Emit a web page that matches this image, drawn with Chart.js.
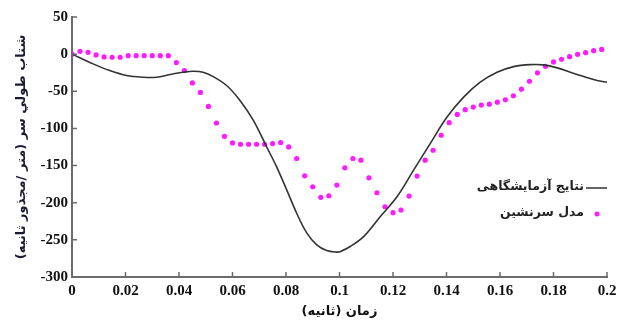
<!DOCTYPE html>
<html>
<head>
<meta charset="utf-8">
<script src="https://cdn.jsdelivr.net/npm/chart.js@4.4.1/dist/chart.umd.min.js"></script>
<style>
  html, body { margin: 0; padding: 0; background: #fff; }
  #wrap { width: 624px; height: 322px; }
</style>
</head>
<body>
<div id="wrap"><canvas id="chart"></canvas></div>
<script>
// Solid curve: lab results (time in s, acceleration)
const labTime = [0, 0.0079, 0.0141, 0.0204, 0.0266, 0.0316, 0.0366, 0.0416, 0.0453, 0.0490,
  0.0528, 0.0578, 0.0628, 0.0678, 0.0728, 0.0765, 0.0803, 0.0840, 0.0878, 0.0915,
  0.0952, 0.0990, 0.1002, 0.1040, 0.1090, 0.1152, 0.1215, 0.1277, 0.1339, 0.1402,
  0.1464, 0.1526, 0.1589, 0.1651, 0.1714, 0.1763, 0.1814, 0.1863, 0.1913, 0.1963, 0.2000];
const labAccel = [0, -13.1, -22.1, -28.8, -31.1, -31.1, -27.5, -24.4, -23.1, -24.4,
  -30.2, -42.2, -62.3, -89.1, -125, -151.7, -183, -214.2, -241, -256.7,
  -264.3, -266.5, -266, -259, -245.6, -218.8, -192, -156.2, -120.4, -84.7,
  -57.9, -37.8, -24.4, -16.8, -14.1, -14.5, -18.5, -24.4, -30.2, -35.5, -37.8];

// Dotted series: occupant model
const modelTime = [0, 0.003, 0.006, 0.009, 0.012, 0.015, 0.018, 0.021, 0.024, 0.027,
  0.030, 0.033, 0.036, 0.039, 0.042, 0.045, 0.048, 0.051, 0.054, 0.057,
  0.060, 0.063, 0.066, 0.069, 0.072, 0.075, 0.078, 0.081, 0.084, 0.087,
  0.090, 0.093, 0.096, 0.099, 0.102, 0.105, 0.108, 0.111, 0.114, 0.117,
  0.120, 0.123, 0.126, 0.129, 0.132, 0.135, 0.138, 0.141, 0.144, 0.147,
  0.150, 0.153, 0.156, 0.159, 0.162, 0.165, 0.168, 0.171, 0.174, 0.177,
  0.180, 0.183, 0.186, 0.189, 0.192, 0.195, 0.198];
const modelAccel = [0, 3.8, 2.4, -1.1, -3.8, -4.2, -4.2, -2, -2, -2,
  -2, -2, -2, -11.4, -22, -38.7, -51.6, -70.4, -92.7, -110.6,
  -119.5, -121.3, -121.3, -121.3, -121.3, -120.4, -119, -124.9, -140.5, -163.8,
  -178.5, -192.8, -190.6, -176.3, -153, -140.5, -142.8, -166.5, -186.6, -205.4,
  -213.4, -209.8, -191, -164.2, -142.8, -129.4, -109.2, -92.2, -81.1, -74.8,
  -71.3, -68.6, -67.3, -64.6, -61.4, -56, -47.2, -36.5, -25.2, -16.4,
  -10.5, -6.9, -3.4, -0.3, 2, 4.7, 6.4];

const xTicks = [0, 0.02, 0.04, 0.06, 0.08, 0.1, 0.12, 0.14, 0.16, 0.18, 0.2];
const yTicks = [50, 0, -50, -100, -150, -200, -250, -300];

const seriesLabels = ['نتايج آزمايشگاهی', 'مدل سرنشين'];
const xTitle = 'زمان (ثانيه)';
const yTitle = 'شتاب طولي سر (متر /مجذور ثانيه)';

const AXIS_COLOR = '#6b6b6b';
const LINE_COLOR = '#333333';
const DOT_COLOR = '#ff1aff';
const TICK_FONT = { family: '"Liberation Serif", "Times New Roman", serif', size: 15, weight: 'bold' };
const TITLE_FONT = { family: '"DejaVu Sans", sans-serif', size: 13, weight: 'bold' };

const toPoints = (xs, ys) => xs.map((x, i) => ({ x, y: ys[i] }));

// Tick marks pointing into the plot
const inwardTicks = {
  id: 'inwardTicks',
  afterDraw(chart) {
    const { ctx, chartArea } = chart;
    const { x, y } = chart.scales;
    ctx.save();
    ctx.strokeStyle = AXIS_COLOR;
    ctx.lineWidth = 1.5;
    ctx.beginPath();
    xTicks.forEach(v => {
      const px = x.getPixelForValue(v);
      ctx.moveTo(px, chartArea.bottom);
      ctx.lineTo(px, chartArea.bottom - 5);
    });
    yTicks.forEach(v => {
      const py = y.getPixelForValue(v);
      ctx.moveTo(chartArea.left, py);
      ctx.lineTo(chartArea.left + 5, py);
    });
    ctx.stroke();
    ctx.restore();
  }
};

// Legend drawn inside the plot, symbol to the right of RTL text
const insideLegend = {
  id: 'insideLegend',
  afterDraw(chart) {
    const { ctx } = chart;
    ctx.save();
    ctx.font = 'bold 12.5px "DejaVu Sans"';
    ctx.textAlign = 'right';
    ctx.textBaseline = 'middle';
    ctx.fillStyle = '#222';
    chart.data.datasets.forEach((ds, i) => {
      const y = 187 + i * 26;
      ctx.fillText(ds.label, 584, y);
      if (ds.showLine) {
        ctx.beginPath();
        ctx.strokeStyle = ds.borderColor;
        ctx.lineWidth = 1.5;
        ctx.moveTo(586, y + 1);
        ctx.lineTo(607, y + 1);
        ctx.stroke();
      } else {
        ctx.beginPath();
        ctx.fillStyle = ds.pointBackgroundColor;
        ctx.arc(597, y + 1, 2.5, 0, Math.PI * 2);
        ctx.fill();
        ctx.fillStyle = '#222';
      }
    });
    ctx.restore();
  }
};

new Chart(document.getElementById('chart'), {
  type: 'scatter',
  data: {
    datasets: [
      {
        label: seriesLabels[0],
        data: toPoints(labTime, labAccel),
        showLine: true,
        borderColor: LINE_COLOR,
        borderWidth: 1.6,
        tension: 0.35,
        pointRadius: 0
      },
      {
        label: seriesLabels[1],
        data: toPoints(modelTime, modelAccel),
        showLine: false,
        pointRadius: 2.6,
        pointBorderWidth: 0,
        pointBackgroundColor: DOT_COLOR,
        borderColor: DOT_COLOR
      }
    ]
  },
  options: {
    responsive: true,
    maintainAspectRatio: false,
    animation: false,
    layout: { padding: { left: 0, right: 17, top: 17, bottom: 0 } },
    plugins: {
      legend: { display: false },
      tooltip: { enabled: false }
    },
    scales: {
      x: {
        type: 'linear',
        min: 0,
        max: 0.2,
        afterBuildTicks: (scale) => { scale.ticks = xTicks.map(v => ({ value: v })); },
        afterFit: (scale) => { scale.height = 45; },
        ticks: {
          color: '#111',
          font: TICK_FONT,
          padding: 5,
          maxRotation: 0,
          autoSkip: false,
          callback: (v) => String(v)
        },
        grid: { drawOnChartArea: false, drawTicks: false },
        border: { display: true, color: AXIS_COLOR, width: 2 },
        title: { display: true, text: xTitle, color: '#111', font: TITLE_FONT, padding: { top: 0, bottom: 3 } }
      },
      y: {
        type: 'linear',
        min: -300,
        max: 50,
        afterBuildTicks: (scale) => { scale.ticks = yTicks.map(v => ({ value: v })); },
        afterFit: (scale) => { scale.width = 72; },
        ticks: {
          color: '#111',
          font: TICK_FONT,
          padding: 4,
          autoSkip: false,
          callback: (v) => String(v)
        },
        grid: { drawOnChartArea: false, drawTicks: false },
        border: { display: true, color: AXIS_COLOR, width: 2 },
        title: { display: true, text: yTitle, color: '#1a1a33', font: TITLE_FONT, padding: { top: 14, bottom: 0 } }
      }
    }
  },
  plugins: [inwardTicks, insideLegend]
});
</script>
</body>
</html>
